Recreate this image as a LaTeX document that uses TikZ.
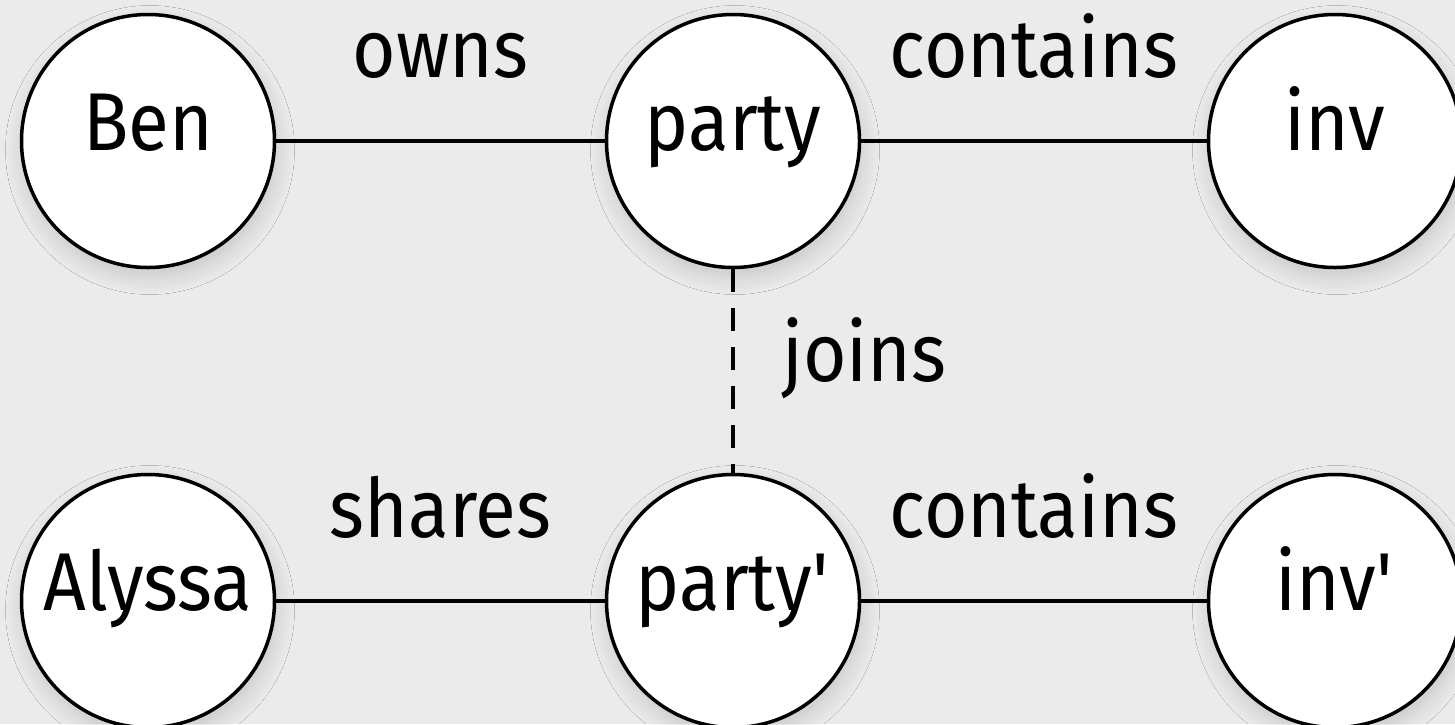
\documentclass[tikz,border=0pt]{standalone}
\usepackage{fontspec}
\setmainfont{Fira Sans}[FakeStretch=0.91]
\usetikzlibrary{shadows.blur}
\definecolor{bgcol}{HTML}{EBEBEB}
\begin{document}
\begin{tikzpicture}[x=1pt,y=-1pt,
  every node/.style={font=\fontsize{82}{96}\selectfont},
  entity/.style={circle, draw=black, line width=3.5pt, fill=white,
    minimum size=253pt, inner sep=0pt, text height=40pt, text depth=22pt,
    blur shadow={shadow xshift=2pt, shadow yshift=-9pt, shadow blur radius=18pt, shadow blur steps=12, shadow opacity=16}},
  rel/.style={line width=4.3pt},
  joinline/.style={line width=4.3pt, dash pattern=on 23pt off 16pt},
  rellabel/.style={midway, anchor=base, yshift=64pt, inner sep=0pt},
]
\useasboundingbox[fill=bgcol] (0,0) rectangle (1455,724);
\node[entity] (ben) at (148,141) {Ben};
\node[entity] (party) at (733,141) {party};
\node[entity] (inv) at (1335,141) {inv};
\node[entity] (alyssa) at (148,601) {Alyssa};
\node[entity] (partyp) at (733,601) {party\textquotesingle};
\node[entity] (invp) at (1335,601) {inv\textquotesingle};
\draw[rel] (ben) -- node[rellabel] {owns} (party);
\draw[rel] (party) -- node[rellabel] {contains} (inv);
\draw[rel] (alyssa) -- node[rellabel] {shares} (partyp);
\draw[rel] (partyp) -- node[rellabel] {contains} (invp);
\draw[joinline] (party.south) -- node[midway, anchor=base west, xshift=47pt, yshift=-10pt, inner sep=0pt] {joins} (partyp.north);
\end{tikzpicture}
\end{document}
